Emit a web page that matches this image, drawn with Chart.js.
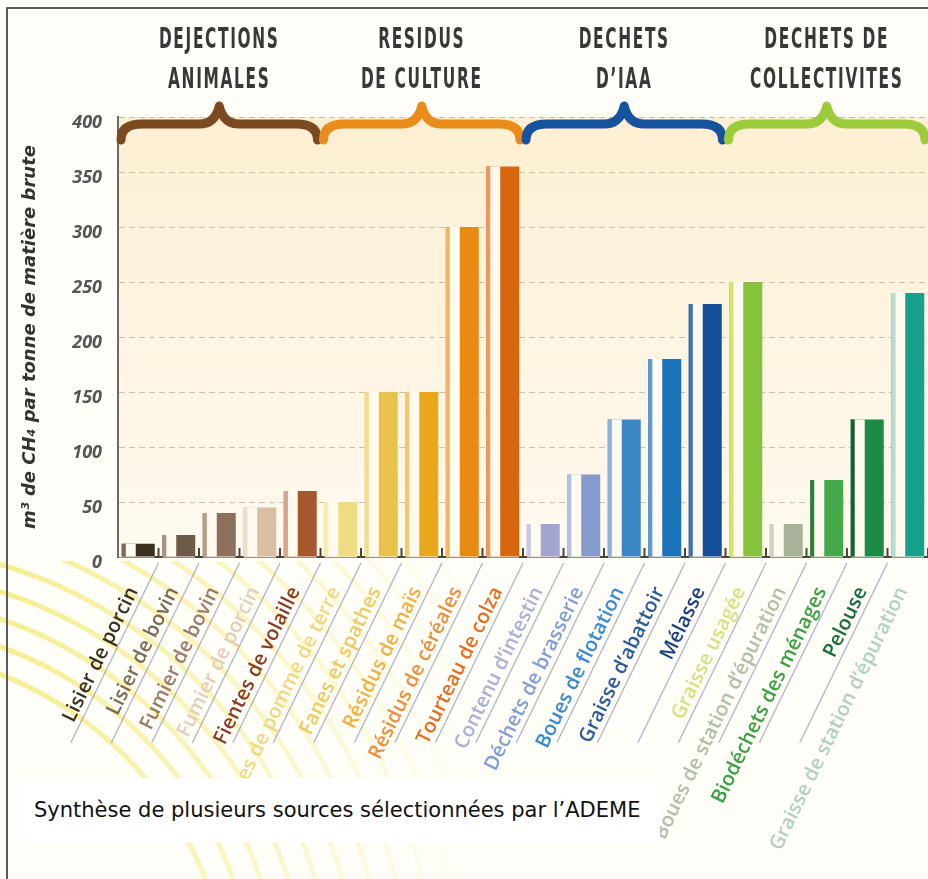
<!DOCTYPE html>
<html lang="fr">
<head>
<meta charset="utf-8">
<title>Potentiel méthanogène</title>
<script src="https://cdn.jsdelivr.net/npm/chart.js@4.4.1/dist/chart.umd.min.js"></script>
<style>
	html, body { margin: 0; padding: 0; background: #fff; }
	#wrap { position: relative; width: 928px; height: 879px; overflow: hidden; }
	#note {
		position: absolute; left: 20px; top: 778px; width: 640px; height: 64px;
		background: #fff; font-family: 'DejaVu Sans', sans-serif; font-size: 21px;
		color: #111; line-height: 64px; padding-left: 14px; box-sizing: border-box;
		white-space: nowrap;
	}
</style>
</head>
<body>
<div id="wrap">
	<canvas id="chart" width="928" height="879"></canvas>
	<div id="note">Synthèse de plusieurs sources sélectionnées par l’ADEME</div>
</div>
<script>
// categories, left to right
const labels = [
	'Lisier de porcin', 'Lisier de bovin', 'Fumier de bovin', 'Fumier de porcin', 'Fientes de volaille',
	'Fanes de pomme de terre', 'Fanes et spathes', 'Résidus de maïs', 'Résidus de céréales', 'Tourteau de colza',
	'Contenu d’intestin', 'Déchets de brasserie', 'Boues de flotation', 'Graisse d’abattoir', 'Mélasse',
	'Graisse usagée', 'Boues de station d’épuration', 'Biodéchets des ménages', 'Pelouse', 'Graisse de station d’épuration'
];
// m3 CH4 / tonne de matière brute
const values = [12, 20, 40, 45, 60, 50, 150, 150, 300, 355, 30, 75, 125, 180, 230, 250, 30, 70, 125, 240];

const groupNames = [['DEJECTIONS', 'ANIMALES'], ['RESIDUS', 'DE CULTURE'], ['DECHETS', 'D’IAA'], ['DECHETS DE', 'COLLECTIVITES']];
const groupSizes = [5, 5, 5, 5];
const groupColors = ['#7b4a21', '#ea8c1c', '#17529e', '#9ccb3b'];

const yTicks = [0, 50, 100, 150, 200, 250, 300, 350, 400];

const barColors = [
	'#3b2f1e', '#6f5a48', '#8e6f5b', '#d8bea3', '#a4582c',
	'#f0dc82', '#e9c24c', '#e8a81a', '#e98a13', '#d8660e',
	'#a2a5d0', '#849bcc', '#3d86c6', '#1a72b8', '#154f98',
	'#86c33c', '#a6b399', '#45a84a', '#1b8a43', '#17a08a'
];
const stripColors = [
	'#7a6a55', '#a89482', '#b89c8a', '#ecdccb', '#d9a48a',
	'#f7ebb6', '#f3dc8d', '#f2c96a', '#f3b568', '#eb9a5c',
	'#c9cbe6', '#b1c1e2', '#86b4de', '#5e9bd0', '#3f73b5',
	'#d6e36a', '#ccd4c2', '#2e7d3a', '#175f33', '#b9ddd5'
];
const labelColors = [
	'#3a3020', '#7a6a55', '#9a7a68', '#e3cdb6', '#8a3a20',
	'#f0d880', '#f0c860', '#f0b040', '#e89040', '#e07020',
	'#a8b0d8', '#7f9ed6', '#3a8ad0', '#2a5a9a', '#1a3f80',
	'#d8e080', '#b0c0a8', '#3aa040', '#1a6a3a', '#b0d0c0'
];

const ANGLE = 64 * Math.PI / 180;

// backgrounds, yellow arcs, braces and headers
const decorPlugin = {
	id: 'decor',
	beforeDraw(chart) {
		const {ctx, chartArea: a, width, height} = chart;
		ctx.save();
		ctx.fillStyle = '#fffdf7';
		ctx.fillRect(0, 0, width, height);
		const g = ctx.createLinearGradient(0, a.top, 0, a.bottom);
		g.addColorStop(0, '#fcefd2');
		g.addColorStop(1, '#fffaf0');
		ctx.fillStyle = g;
		ctx.fillRect(a.left, a.top, a.right - a.left, a.bottom - a.top);

		// arcs under the labels
		ctx.beginPath();
		ctx.rect(0, a.bottom + 4, 560, height - a.bottom);
		ctx.clip();
		const sg = ctx.createLinearGradient(0, 0, 480, 0);
		sg.addColorStop(0, 'rgba(236,226,60,0.55)');
		sg.addColorStop(1, 'rgba(236,226,60,0)');
		ctx.strokeStyle = sg;
		ctx.lineWidth = 5;
		for (let r = 360; r <= 760; r += 26) {
			ctx.beginPath();
			ctx.arc(-130, 1010, r, Math.PI * 1.4, Math.PI * 2);
			ctx.stroke();
		}
		ctx.restore();
	},
	afterDraw(chart) {
		const {ctx, chartArea: a, scales: {x}} = chart;
		const half = (x.getPixelForValue(1) - x.getPixelForValue(0)) / 2;
		ctx.save();

		// little marks at the foot of each slot, and the slanted separators
		ctx.strokeStyle = '#4a4438';
		ctx.lineWidth = 2;
		for (let i = 0; i < labels.length; i++) {
			const bx = x.getPixelForValue(i) + half;
			ctx.beginPath();
			ctx.moveTo(bx, a.bottom - 9);
			ctx.lineTo(bx, a.bottom);
			ctx.moveTo(bx - 4, a.bottom);
			ctx.lineTo(bx + 4, a.bottom);
			ctx.stroke();
		}
		ctx.strokeStyle = 'rgba(110,120,155,0.55)';
		ctx.lineWidth = 1.3;
		for (let i = 0; i < labels.length - 1; i++) {
			const bx = x.getPixelForValue(i) + half;
			ctx.beginPath();
			ctx.moveTo(bx, a.bottom + 6);
			ctx.lineTo(bx - Math.cos(ANGLE) * 200, a.bottom + 6 + Math.sin(ANGLE) * 200);
			ctx.stroke();
		}

		// braces + group titles
		let start = 0;
		groupSizes.forEach((n, gi) => {
			const x0 = x.getPixelForValue(start) - half;
			const x1 = x.getPixelForValue(start + n - 1) + half;
			const xm = (x0 + x1) / 2;
			const y = a.top + 7;
			ctx.strokeStyle = groupColors[gi];
			ctx.lineWidth = 9;
			ctx.lineCap = 'round';
			ctx.lineJoin = 'round';
			ctx.beginPath();
			ctx.moveTo(x0 + 3, y + 16);
			ctx.quadraticCurveTo(x0 + 3, y, x0 + 24, y);
			ctx.lineTo(xm - 20, y);
			ctx.quadraticCurveTo(xm - 4, y, xm, y - 18);
			ctx.quadraticCurveTo(xm + 4, y, xm + 20, y);
			ctx.lineTo(x1 - 24, y);
			ctx.quadraticCurveTo(x1 - 3, y, x1 - 3, y + 16);
			ctx.stroke();

			ctx.fillStyle = '#383838';
			ctx.font = 'bold 28px "DejaVu Sans"';
			ctx.textAlign = 'center';
			ctx.textBaseline = 'alphabetic';
			ctx.letterSpacing = '3px';
			groupNames[gi].forEach((line, li) => {
				ctx.save();
				ctx.translate(xm, 48 + li * 40);
				ctx.scale(0.55, 1);
				ctx.fillText(line, 0, 0);
				ctx.restore();
			});
			start += n;
		});

		// frame
		ctx.strokeStyle = '#5a5a5a';
		ctx.lineWidth = 2;
		ctx.lineCap = 'butt';
		ctx.beginPath();
		ctx.moveTo(7, chart.height);
		ctx.lineTo(7, 8);
		ctx.lineTo(chart.width, 8);
		ctx.stroke();
		ctx.restore();
	}
};

// the pale strip and gap on the left of every bar
const stripPlugin = {
	id: 'strips',
	afterDatasetsDraw(chart) {
		const {ctx} = chart;
		const meta = chart.getDatasetMeta(0);
		ctx.save();
		meta.data.forEach((bar, i) => {
			const p = bar.getProps(['x', 'y', 'base', 'width'], true);
			const left = p.x - p.width / 2;
			ctx.fillStyle = stripColors[i];
			ctx.fillRect(left, p.y, 4, p.base - p.y);
			ctx.fillStyle = '#fffaf0';
			ctx.fillRect(left + 4, p.y, 10, p.base - p.y);
		});
		ctx.restore();
	}
};

new Chart(document.getElementById('chart'), {
	type: 'bar',
	data: {
		labels: labels,
		datasets: [{
			data: values,
			backgroundColor: barColors,
			borderWidth: 0,
			categoryPercentage: 1,
			barPercentage: 0.815
		}]
	},
	options: {
		responsive: false,
		animation: false,
		devicePixelRatio: 1,
		layout: { padding: { top: 117, right: 0, left: 0, bottom: 0 } },
		plugins: {
			legend: { display: false },
			tooltip: { enabled: false }
		},
		scales: {
			x: {
				grid: { display: false },
				border: { display: true, color: '#9a9080', width: 1 },
				ticks: {
					autoSkip: false,
					minRotation: 64,
					maxRotation: 64,
					padding: 18,
					labelOffset: -5,
					color: (c) => labelColors[c.index],
					font: { family: 'Open Sans', size: 20, weight: '600' }
				},
				afterFit(scale) {
					scale.height = 322;
					scale.paddingLeft = 0;
					scale.paddingRight = 0;
				}
			},
			y: {
				min: 0,
				max: 400,
				afterBuildTicks(scale) {
					scale.ticks = yTicks.map(v => ({ value: v }));
				},
				grid: { color: '#c9bfae', lineWidth: 1, drawTicks: false },
				border: { display: true, color: '#6a6a6a', width: 2, dash: [6, 4] },
				ticks: {
					padding: 16,
					labelOffset: 6,
					color: '#555',
					font: { family: 'Open Sans', size: 18, style: 'italic', weight: 'bold' }
				},
				title: {
					display: true,
					text: 'm³ de CH₄ par tonne de matière brute',
					color: '#333',
					padding: { top: 20, bottom: 0 },
					font: { family: 'DejaVu Sans', size: 18, style: 'italic', weight: 'bold' }
				},
				afterFit(scale) {
					scale.width = 118;
				}
			}
		}
	},
	plugins: [decorPlugin, stripPlugin]
});
</script>
</body>
</html>
